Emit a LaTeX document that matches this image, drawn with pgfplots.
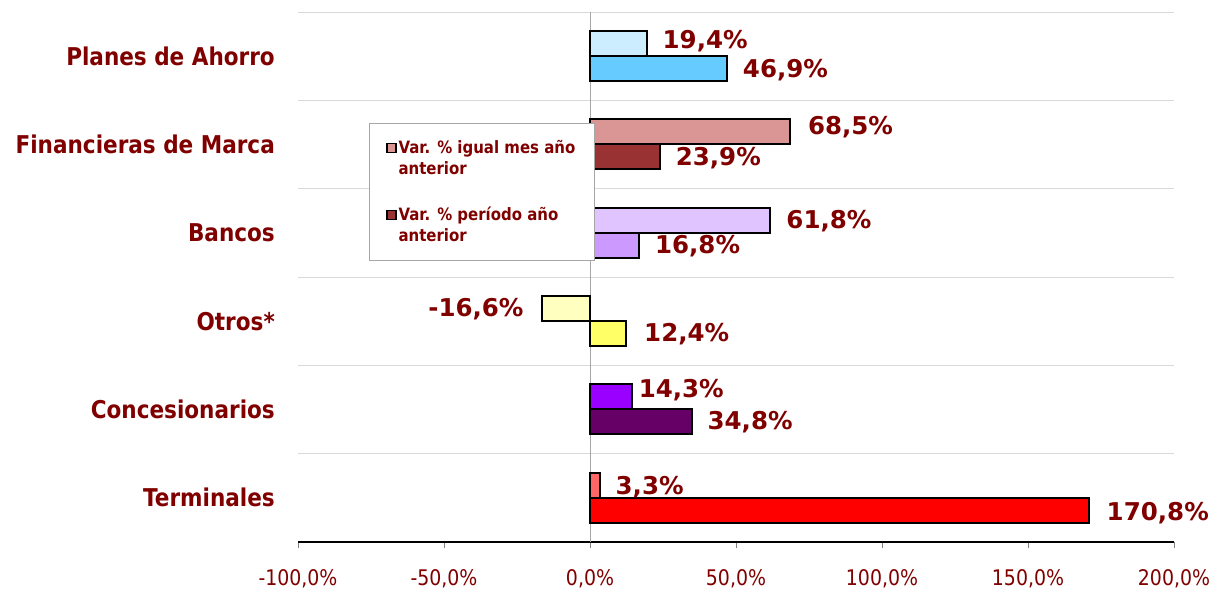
\documentclass[border=0pt]{standalone}
\usepackage{pgfplots}
\pgfplotsset{compat=1.18}
\usepackage{fontspec}
\setmainfont{DejaVu Sans}
\newfontfamily\narrowfont{DejaVu Sans}[FakeStretch=0.88]
\definecolor{darkred}{HTML}{800000}
\definecolor{planesA}{HTML}{CCECFF}
\definecolor{planesB}{HTML}{66CCFF}
\definecolor{finA}{HTML}{DA9694}
\definecolor{finB}{HTML}{993333}
\definecolor{bancA}{HTML}{E0C4FF}
\definecolor{bancB}{HTML}{CC99FF}
\definecolor{otrosA}{HTML}{FFFFC0}
\definecolor{otrosB}{HTML}{FFFF66}
\definecolor{concA}{HTML}{9900FF}
\definecolor{concB}{HTML}{660066}
\definecolor{termA}{HTML}{FF6666}
\definecolor{termB}{HTML}{FF0000}
\newcommand\catstyle{\narrowfont\bfseries\fontsize{24.5}{29}\selectfont}
\newcommand\datastyle{\bfseries\fontsize{24.5}{29}\selectfont}
\newcommand\tickstyle{\narrowfont\fontsize{21.5}{25}\selectfont}
\newcommand\legstyle{\narrowfont\bfseries\fontsize{17}{21}\selectfont}
\pgfplotsset{
  lbl/.style={nodes near coords={\pgfmathprintnumber[fixed,fixed zerofill,precision=1,use comma]{\pgfplotspointmeta}\%},
    point meta=x,
    nodes near coords style={font=\datastyle, text=darkred, anchor=west, inner sep=0pt, xshift=15pt}},
  topbar/.style 2 args={xbar, bar width=0.283, bar shift=0.1415, draw=black, line width=2pt, forget plot, fill=#1, lbl,
    every node near coord/.append style={yshift=#2}},
  botbar/.style 2 args={xbar, bar width=0.283, bar shift=-0.1415, draw=black, line width=2pt, forget plot, fill=#1, lbl,
    every node near coord/.append style={yshift=#2}},
}
\begin{document}
\begin{tikzpicture}
\useasboundingbox (0,0) rectangle (1213pt,591pt);
\begin{axis}[
  at={(298pt,49pt)}, anchor=south west,
  scale only axis, width=876pt, height=530pt,
  xmin=-100, xmax=200, ymin=-0.5, ymax=5.5,
  axis x line=bottom, axis y line=left,
  axis line style={-},
  x axis line style={black, line width=1.2pt},
  y axis line style={draw=none},
  xtick={-100,-50,...,200},
  xtick style={gray, line width=0.8pt},
  tick align=outside, major tick length=6pt,
  ytick={0,...,5},
  yticklabels={Terminales,Concesionarios,Otros*,Bancos,Financieras de Marca,Planes de Ahorro},
  ytick style={draw=none},
  minor ytick={-0.5,0.5,...,5.5},
  minor tick length=0pt,
  yminorgrids=true,
  minor grid style={gray!30, line width=0.8pt},
  /pgf/number format/assume math mode=true,
  xticklabel={\pgfmathprintnumber[fixed,fixed zerofill,precision=1,use comma]{\tick}\%},
  xticklabel style={font=\tickstyle, text=darkred, yshift=-18pt},
  yticklabel style={font=\catstyle, text=darkred, inner sep=0pt, xshift=-17pt},
  legend style={at={(axis cs:-75.7,4.243)}, anchor=north west, draw=gray!70, line width=0.8pt, fill=white,
    font=\legstyle, text=darkred, inner xsep=17pt, inner ysep=15pt, row sep=27pt,
    nodes={align=left}},
  legend cell align=left,
  legend image code/.code={\draw[#1, draw=black, line width=1.2pt] (0pt,6pt) rectangle (9pt,15pt);},
]
\draw[gray!70, line width=0.8pt] (axis cs:0,-0.5) -- (axis cs:0,5.5);
% Planes de Ahorro
\addplot[topbar={planesA}{15pt}] coordinates {(19.4,5)};
\addplot[botbar={planesB}{-14pt}] coordinates {(46.9,5)};
% Financieras de Marca
\addplot[topbar={finA}{17.5pt}, every node near coord/.append style={xshift=2pt}] coordinates {(68.5,4)};
\addplot[botbar={finB}{-13.5pt}] coordinates {(23.9,4)};
% Bancos
\addplot[topbar={bancA}{12pt}] coordinates {(61.8,3)};
\addplot[botbar={bancB}{-13pt}] coordinates {(16.8,3)};
% Otros*
\addplot[topbar={otrosA}{12pt}, every node near coord/.append style={anchor=east, xshift=-32pt}] coordinates {(-16.6,2)};
\addplot[botbar={otrosB}{-13pt}, every node near coord/.append style={xshift=2pt}] coordinates {(12.4,2)};
% Concesionarios
\addplot[topbar={concA}{19pt}, every node near coord/.append style={xshift=-9pt}] coordinates {(14.3,1)};
\addplot[botbar={concB}{-13pt}] coordinates {(34.8,1)};
% Terminales
\addplot[topbar={termA}{11pt}] coordinates {(3.3,0)};
\addplot[botbar={termB}{-15pt}, every node near coord/.append style={xshift=2pt}] coordinates {(170.8,0)};
\addlegendimage{fill=finA}
\addlegendentry{Var. \% igual mes año\\anterior}
\addlegendimage{fill=finB}
\addlegendentry{Var. \% período año\\anterior}
\end{axis}
\end{tikzpicture}
\end{document}
